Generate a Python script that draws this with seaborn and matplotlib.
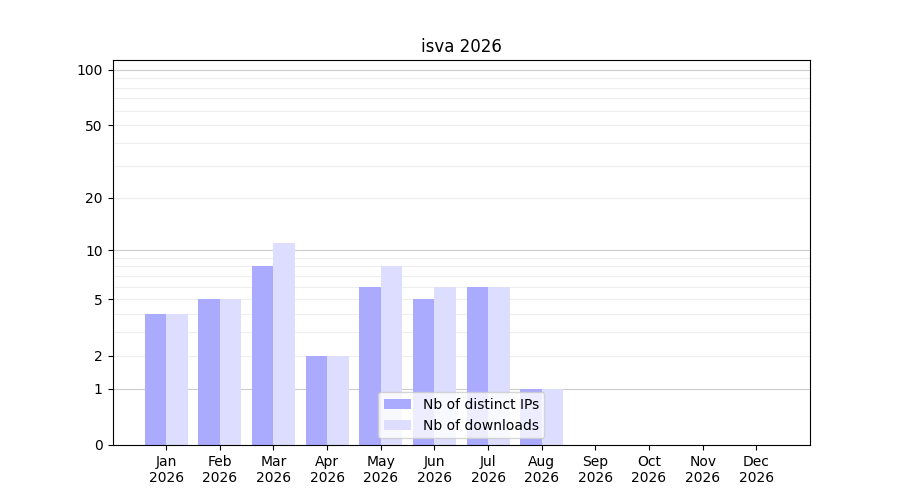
import numpy as np
import pandas as pd
import matplotlib
matplotlib.use("Agg")
import matplotlib.pyplot as plt
import seaborn as sns
from matplotlib.ticker import FixedLocator

# --- Data ---
months = ["Jan\n2026", "Feb\n2026", "Mar\n2026", "Apr\n2026", "May\n2026", "Jun\n2026",
          "Jul\n2026", "Aug\n2026", "Sep\n2026", "Oct\n2026", "Nov\n2026", "Dec\n2026"]
distinct_ips = [4, 5, 8, 2, 6, 5, 6, 1, 0, 0, 0, 0]
downloads = [4, 5, 11, 2, 8, 6, 6, 1, 0, 0, 0, 0]

df = pd.DataFrame({
    "month": months * 2,
    "value": distinct_ips + downloads,
    "series": ["Nb of distinct IPs"] * 12 + ["Nb of downloads"] * 12,
})

fig, ax = plt.subplots(figsize=(9, 5), dpi=100)
sns.barplot(data=df, x="month", y="value", hue="series", order=months,
            palette=["#aaaaff", "#ddddff"], width=0.8, dodge=True,
            saturation=1, ax=ax)

# log(1+x) scale
ax.set_yscale("function", functions=(lambda v: np.log10(1 + np.clip(v, 0, None)),
                                     lambda v: 10 ** v - 1))
ax.set_ylim(0, 113)
ax.set_xlim(-1, 12)
ax.yaxis.set_major_locator(FixedLocator([0, 1, 2, 5, 10, 20, 50, 100]))
ax.set_yticklabels(["0", "1", "2", "5", "10", "20", "50", "100"])
minor = [3, 4, 6, 7, 8, 9, 30, 40, 60, 70, 80, 90]
ax.yaxis.set_minor_locator(FixedLocator(minor))
ax.tick_params(axis="y", which="minor", length=0)
for v in [1, 10, 100]:
    ax.axhline(v, color="#cccccc", lw=0.8, zorder=0)
for v in [2, 5, 20, 50] + minor:
    ax.axhline(v, color="#eeeeee", lw=0.8, zorder=0)

ax.set_title("isva 2026")
ax.set_xlabel("")
ax.set_ylabel("")
ax.legend(loc="lower center")

plt.savefig("out.png")
